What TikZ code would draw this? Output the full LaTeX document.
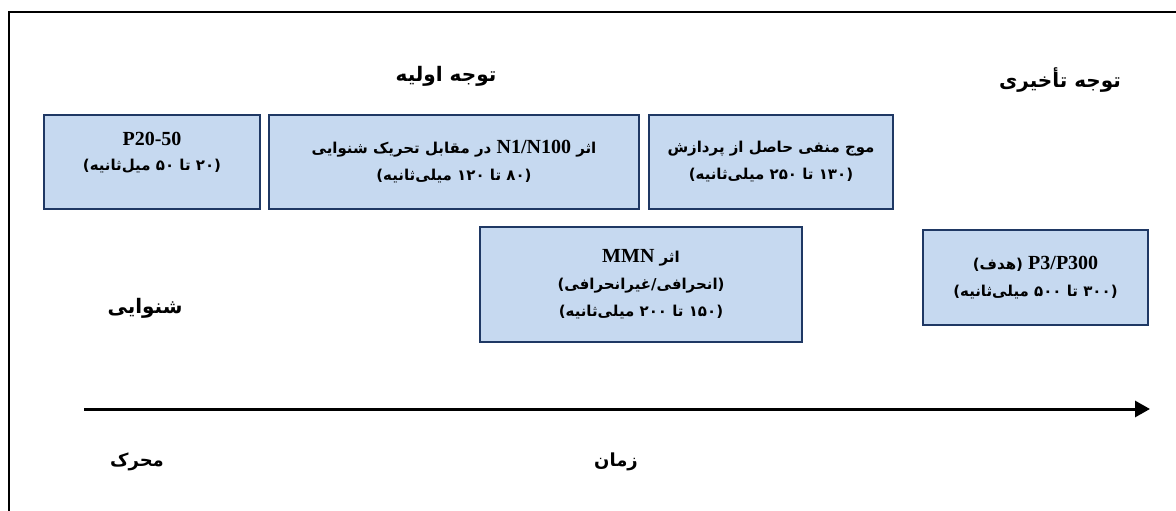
\documentclass[tikz,border=0pt]{standalone}
\usepackage{fontspec}
\setmainfont{Liberation Serif}
\newfontfamily\pfont[Script=Arabic]{DejaVu Sans}
\TeXXeTstate=1
\usetikzlibrary{arrows.meta,positioning}
\definecolor{boxfill}{RGB}{198,217,240}
\definecolor{boxline}{RGB}{31,56,100}
\newcommand{\fatx}[1]{{\pfont\bfseries\beginR #1\endR}}
\newcommand{\latx}[1]{\beginL{\rmfamily\bfseries\fontsize{20}{26}\selectfont #1}\endL{}}
\tikzstyle{erp}=[draw=boxline,fill=boxfill,line width=2pt,align=center,inner sep=0pt,
                 minimum height=94pt,font=\fontsize{15}{27}\selectfont]
\tikzstyle{ttl}=[font=\fontsize{20}{24}\selectfont]
\tikzstyle{lbl}=[font=\fontsize{18}{22}\selectfont]

\begin{document}
\begin{tikzpicture}[x=1pt,y=-1pt]
\useasboundingbox (0,0) rectangle (1176,511);
\draw[line width=2pt] (9,12) rectangle (1200,540);
\node (ttl1) [ttl] at (446,76) {\fatx{توجه اولیه}};
\node (ttl2) [ttl] at (1060,80) {\fatx{توجه تأخیری}};
\node (p20) [erp,minimum width=216pt,font=\fontsize{15}{25}\selectfont,text depth=21pt] at (152,162) {\latx{P20-50}\\\fatx{(۲۰ تا ۵۰ میل‌ثانیه)}};
\node (n1) [erp,minimum width=370pt,right=7pt of p20] {\fatx{اثر \latx{N1/N100} در مقابل تحریک شنوایی}\\\fatx{(۸۰ تا ۱۲۰ میلی‌ثانیه)}};
\node (neg) [erp,minimum width=244pt,right=8pt of n1] {\fatx{موج منفی حاصل از پردازش}\\\fatx{(۱۳۰ تا ۲۵۰ میلی‌ثانیه)}};
\node (mmn) [erp,minimum width=322pt,minimum height=115pt] at (641,284.5) {\fatx{اثر \latx{MMN}}\\\fatx{(انحرافی/غیرانحرافی)}\\\fatx{(۱۵۰ تا ۲۰۰ میلی‌ثانیه)}};
\node (p300) [erp,minimum width=225pt,minimum height=95pt] at (1035.5,277.5) {\fatx{\latx{P3/P300} (هدف)}\\\fatx{(۳۰۰ تا ۵۰۰ میلی‌ثانیه)}};
\node (aud) [lbl,font=\fontsize{20}{24}\selectfont] at (145,308) {\fatx{شنوایی}};
\coordinate (t0) at (84,409);
\coordinate (t1) at (1150,409);
\draw[line width=3pt,-{Triangle[length=15pt,width=16pt]}] (t0) -- (t1);
\node (stim) [lbl] at (137,462) {\fatx{محرک}};
\node (time) [lbl] at (616,462) {\fatx{زمان}};
\end{tikzpicture}
\end{document}
